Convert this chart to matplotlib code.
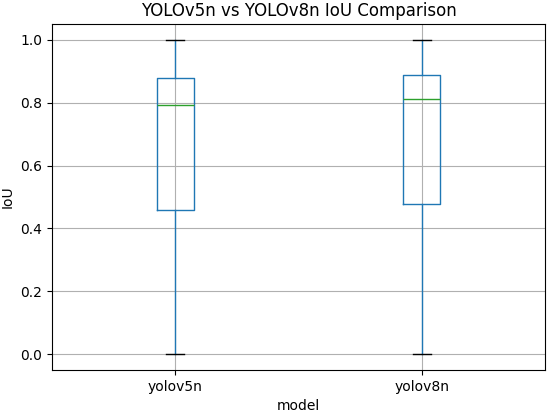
import matplotlib
matplotlib.use("Agg")
import matplotlib.pyplot as plt

models = ["yolov5n", "yolov8n"]
whislo = [0.0, 0.0]
q1 = [0.459, 0.478]
med = [0.793, 0.811]
q3 = [0.877, 0.888]
whishi = [1.0, 1.0]

stats = [dict(label=m, whislo=lo, q1=a, med=b, q3=c, whishi=hi, fliers=[])
         for m, lo, a, b, c, hi in zip(models, whislo, q1, med, q3, whishi)]

fig = plt.figure(figsize=(5.5, 4.13), dpi=100)
ax = fig.add_axes([0.0945, 0.104, 0.8965, 0.838])
ax.bxp(stats, showfliers=False,
       boxprops=dict(color="#1f77b4"),
       whiskerprops=dict(color="#1f77b4"),
       medianprops=dict(color="#2ca02c"),
       capprops=dict(color="black"))
ax.grid(True)
ax.set_axisbelow(True)
ax.set_title("YOLOv5n vs YOLOv8n IoU Comparison")
ax.set_xlabel("model")
ax.set_ylabel("IoU")
fig.savefig("out.png", dpi=100)
